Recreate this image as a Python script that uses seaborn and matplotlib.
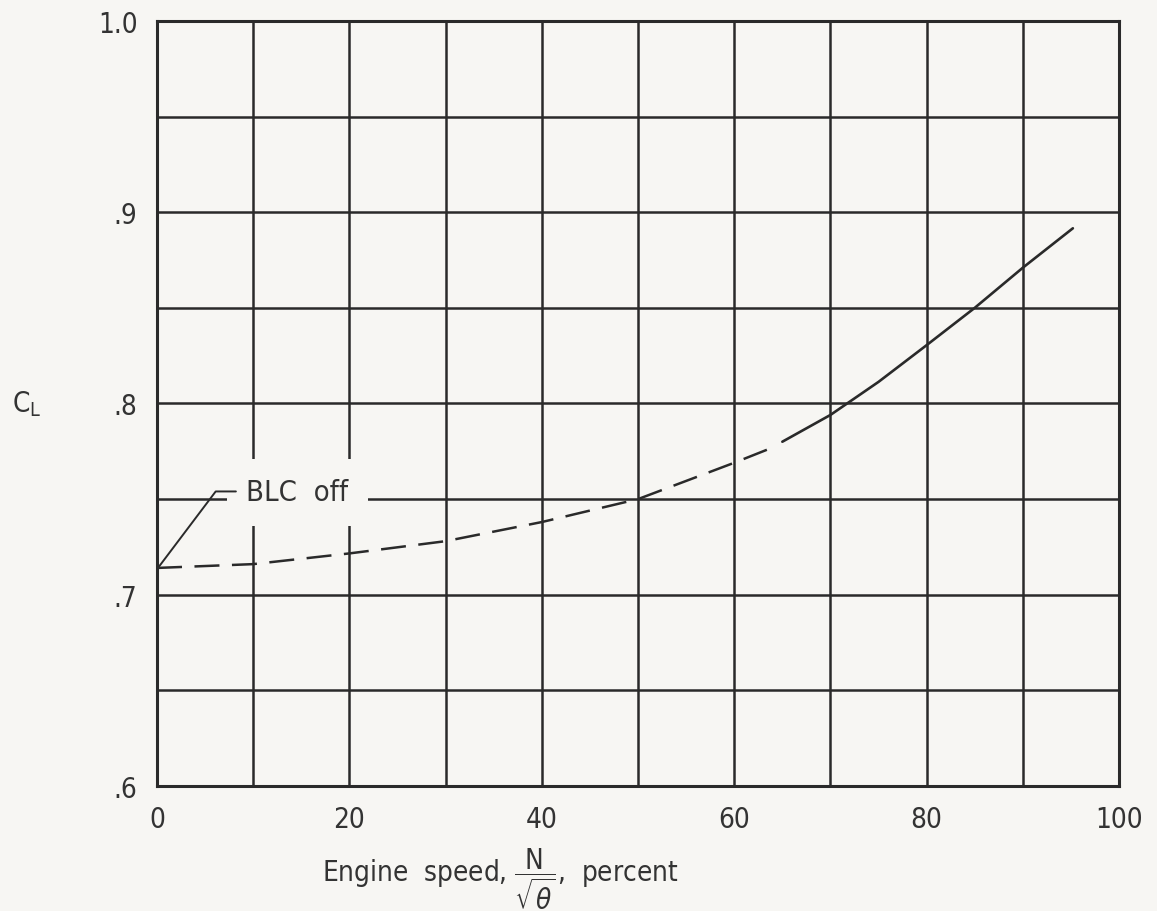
import matplotlib
matplotlib.use("Agg")
import matplotlib.pyplot as plt
import seaborn as sns
import pandas as pd

# Data
dashed_x = [0, 10, 20, 30, 40, 50, 60, 64]
dashed_y = [0.714, 0.716, 0.7216, 0.728, 0.738, 0.750, 0.769, 0.777]
solid_x = [65, 70, 75, 80, 85, 90, 95.2]
solid_y = [0.780, 0.794, 0.8113, 0.8305, 0.850, 0.871, 0.8916]

x_ticks = [0, 20, 40, 60, 80, 100]
x_labels = ['0', '20', '40', '60', '80', '100']
y_ticks = [0.6, 0.7, 0.8, 0.9, 1.0]
y_labels = ['.6', '.7', '.8', '.9', '1.0']

sns.set_style('white')
plt.rcParams['font.family'] = ['DejaVu Sans']
plt.rcParams['font.stretch'] = 'condensed'
plt.rcParams['mathtext.fontset'] = 'dejavusans'

paper = '#f7f6f3'
ink = '#2a2a2a'
txt = '#333333'

fig = plt.figure(figsize=(11.57, 9.12), dpi=100, facecolor=paper)
ax = fig.add_axes([0.1357, 0.1371, 0.8315, 0.8388])
ax.set_facecolor(paper)

d1 = pd.DataFrame({'x': dashed_x, 'y': dashed_y})
d2 = pd.DataFrame({'x': solid_x, 'y': solid_y})
sns.lineplot(data=d1, x='x', y='y', ax=ax, color=ink, lw=1.8,
             linestyle=(0, (10, 5)), zorder=5)
sns.lineplot(data=d2, x='x', y='y', ax=ax, color=ink, lw=1.9, zorder=5)

ax.set_xlim(0, 100)
ax.set_ylim(0.6, 1.0)

# grid
ax.set_xticks(x_ticks)
ax.set_xticklabels(x_labels)
ax.set_xticks(range(0, 101, 10), minor=True)
ax.set_yticks(y_ticks)
ax.set_yticklabels(y_labels)
ax.set_yticks([0.6 + 0.05 * i for i in range(9)], minor=True)
ax.grid(which='both', color=ink, lw=1.8, zorder=1)
ax.set_axisbelow(True)
ax.tick_params(which='both', length=0, labelsize=20, colors=txt)
ax.tick_params(axis='x', pad=14)
ax.tick_params(axis='y', pad=14)
for s in ax.spines.values():
    s.set_color(ink)
    s.set_linewidth(2.2)

# annotation
ax.text(9.3, 0.7535, 'BLC  off', fontsize=21, color=txt, va='center',
        ha='left', zorder=3,
        bbox=dict(facecolor=paper, edgecolor='none', pad=14))
ax.plot([0.1, 6.1, 8.2], [0.714, 0.754, 0.754], color=ink, lw=1.4, zorder=6)

ax.set_xlabel(r'Engine  speed, $\dfrac{\mathregular{N}}{\sqrt{\theta}}$,  percent',
              fontsize=20, color=txt, va='center')
ax.xaxis.set_label_coords(0.357, -0.12)
ax.set_ylabel(r'$\mathregular{C_L}$', fontsize=20, rotation=0,
              color=txt, va='center')
ax.yaxis.set_label_coords(-0.135, 0.5)

fig.savefig('out.png', dpi=100, facecolor=paper)
